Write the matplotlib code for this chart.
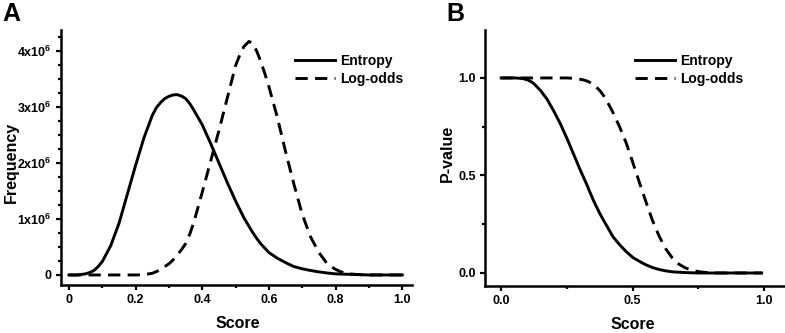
import matplotlib
matplotlib.use('Agg')
import matplotlib.pyplot as plt
from matplotlib.ticker import MultipleLocator, FixedLocator, FixedFormatter

plt.rcParams['font.family'] = ['Liberation Sans', 'DejaVu Sans']
plt.rcParams['font.weight'] = 'bold'
plt.rcParams['mathtext.fontset'] = 'custom'
plt.rcParams['mathtext.bf'] = 'Liberation Sans:bold'
plt.rcParams['mathtext.rm'] = 'Liberation Sans:bold'
plt.rcParams['mathtext.default'] = 'bf'

# Panel A: score distributions (frequency in units of 10^6)
score_a = [0.0, 0.025, 0.05, 0.0625, 0.075, 0.0875, 0.1, 0.125, 0.15, 0.175, 0.2,
           0.225, 0.25, 0.2625, 0.275, 0.2875, 0.3, 0.3125, 0.325, 0.3375, 0.35,
           0.3625, 0.375, 0.4, 0.425, 0.45, 0.475, 0.5, 0.5125, 0.525, 0.54, 0.55,
           0.5625, 0.575, 0.5875, 0.6, 0.625, 0.65, 0.675, 0.7, 0.725, 0.75, 0.775,
           0.7875, 0.8, 0.8125, 0.825, 0.85, 0.875, 0.9, 0.95, 1.0]
entropy_freq = [0.0, 0.0, 0.02, 0.045, 0.08, 0.15, 0.24, 0.52, 0.92, 1.44, 1.96,
                2.45, 2.85, 2.99, 3.08, 3.15, 3.19, 3.215, 3.22, 3.195, 3.15,
                3.06, 2.94, 2.68, 2.35, 2.00, 1.65, 1.32, 1.17, 1.02, 0.87, 0.77,
                0.66, 0.56, 0.48, 0.40, 0.30, 0.22, 0.15, 0.11, 0.08, 0.055, 0.035,
                0.027, 0.02, 0.017, 0.014, 0.01, 0.005, 0.0, 0.0, 0.0]
logodds_freq = [0.0, 0.0, 0.0, 0.0, 0.0, 0.0, 0.0, 0.0, 0.0, 0.0, 0.0,
                0.005, 0.03, 0.06, 0.10, 0.15, 0.20, 0.27, 0.36, 0.45, 0.56,
                0.73, 0.95, 1.48, 2.03, 2.58, 3.16, 3.74, 3.93, 4.08, 4.17, 4.14,
                4.01, 3.82, 3.60, 3.36, 2.82, 2.20, 1.62, 1.08, 0.68, 0.40, 0.20,
                0.145, 0.10, 0.065, 0.04, 0.015, 0.005, 0.0, 0.0, 0.0]

# Panel B: p-values
score_b = [0.0, 0.025, 0.05, 0.075, 0.0875, 0.1, 0.1125, 0.125, 0.15, 0.175, 0.2,
           0.225, 0.25, 0.275, 0.3, 0.3125, 0.325, 0.3375, 0.35, 0.3625, 0.375,
           0.3875, 0.4, 0.425, 0.45, 0.475, 0.5, 0.525, 0.55, 0.575, 0.6, 0.625,
           0.65, 0.675, 0.7, 0.725, 0.75, 0.775, 0.8, 0.85, 0.9, 0.99]
entropy_p = [1.0, 1.0, 1.0, 0.998, 0.995, 0.99, 0.982, 0.97, 0.935, 0.89, 0.83,
             0.765, 0.69, 0.61, 0.53, 0.492, 0.455, 0.414, 0.374, 0.339, 0.305,
             0.274, 0.245, 0.186, 0.145, 0.11, 0.08, 0.06, 0.042, 0.028, 0.018, 0.011,
             0.006, 0.004, 0.002, 0.001, 0.0, 0.0, 0.0, 0.0, 0.0, 0.0]
logodds_p = [1.0, 1.0, 1.0, 1.0, 1.0, 1.0, 1.0, 1.0, 1.0, 1.0, 1.0,
             1.0, 1.0, 0.998, 0.993, 0.99, 0.985, 0.977, 0.966, 0.952, 0.935,
             0.913, 0.887, 0.823, 0.75, 0.668, 0.568, 0.466, 0.366, 0.27, 0.19, 0.125,
             0.078, 0.046, 0.026, 0.015, 0.007, 0.003, 0.0, 0.0, 0.0, 0.0]

a_xticks = [0, 0.2, 0.4, 0.6, 0.8, 1.0]
a_xticklabels = ['0', '0.2', '0.4', '0.6', '0.8', '1.0']
a_yticks = [0, 1, 2, 3, 4]
a_yticklabels = ['0', r'1x10$^{6}$', r'2x10$^{6}$', r'3x10$^{6}$', r'4x10$^{6}$']
b_ticks = [0.0, 0.5, 1.0]
b_ticklabels = ['0.0', '0.5', '1.0']

fig = plt.figure(figsize=(7.85, 3.33), dpi=100)
axA = fig.add_axes([0.0777, 0.144, 0.447, 0.766])
axB = fig.add_axes([0.618, 0.141, 0.381, 0.769])

lw = 2.1
dash = (4.2, 2.5)

axA.plot(score_a, entropy_freq, color='black', lw=lw, label='Entropy')
axA.plot(score_a, logodds_freq, color='black', lw=lw, dashes=dash, label='Log-odds')
axB.plot(score_b, entropy_p, color='black', lw=lw, label='Entropy')
axB.plot(score_b, logodds_p, color='black', lw=lw, dashes=dash, label='Log-odds')

axA.set_xlim(-0.024, 1.029)
axA.set_ylim(-0.18, 4.375)
axB.set_xlim(-0.061, 1.076)
axB.set_ylim(-0.067, 1.246)

axA.xaxis.set_major_locator(FixedLocator(a_xticks))
axA.xaxis.set_major_formatter(FixedFormatter(a_xticklabels))
axA.xaxis.set_minor_locator(MultipleLocator(0.1))
axA.yaxis.set_major_locator(FixedLocator(a_yticks))
axA.yaxis.set_major_formatter(FixedFormatter(a_yticklabels))
axA.yaxis.set_minor_locator(MultipleLocator(0.25))

for axis in (axB.xaxis, axB.yaxis):
    axis.set_major_locator(FixedLocator(b_ticks))
    axis.set_major_formatter(FixedFormatter(b_ticklabels))
    axis.set_minor_locator(MultipleLocator(0.25))

for ax in (axA, axB):
    for s in ('top', 'right'):
        ax.spines[s].set_visible(False)
    for s in ('left', 'bottom'):
        ax.spines[s].set_linewidth(1.8)
    ax.tick_params(which='major', direction='out', length=3.5, width=1.6,
                   labelsize=9, pad=3)
    ax.tick_params(which='minor', direction='out', length=2.2, width=1.6)
    for lab in ax.get_xticklabels() + ax.get_yticklabels():
        lab.set_fontweight('bold')
    ax.set_xlabel('Score', fontsize=11.5, fontweight='bold')
    ax.legend(loc='upper left', frameon=False, fontsize=10, handlelength=2.9,
              handletextpad=0.35, labelspacing=0.3, borderpad=0, borderaxespad=0)

axA.get_legend().set_bbox_to_anchor((0.667, 0.906), transform=axA.transAxes)
axB.get_legend().set_bbox_to_anchor((0.50, 0.906), transform=axB.transAxes)

axA.set_ylabel('Frequency', fontsize=11.5, fontweight='bold')
axB.set_ylabel('P-value', fontsize=11.5, fontweight='bold')

# label positions (axes fraction)
axA.xaxis.set_label_coords(0.505, -0.12)
axB.xaxis.set_label_coords(0.495, -0.12)
axA.yaxis.set_label_coords(-0.12, 0.48)
axB.yaxis.set_label_coords(-0.10, 0.52)

fig.text(0.003, 0.995, 'A', fontsize=18, fontweight='bold', va='top', ha='left')
fig.text(0.569, 0.995, 'B', fontsize=18, fontweight='bold', va='top', ha='left')

fig.savefig('out.png', dpi=100)
